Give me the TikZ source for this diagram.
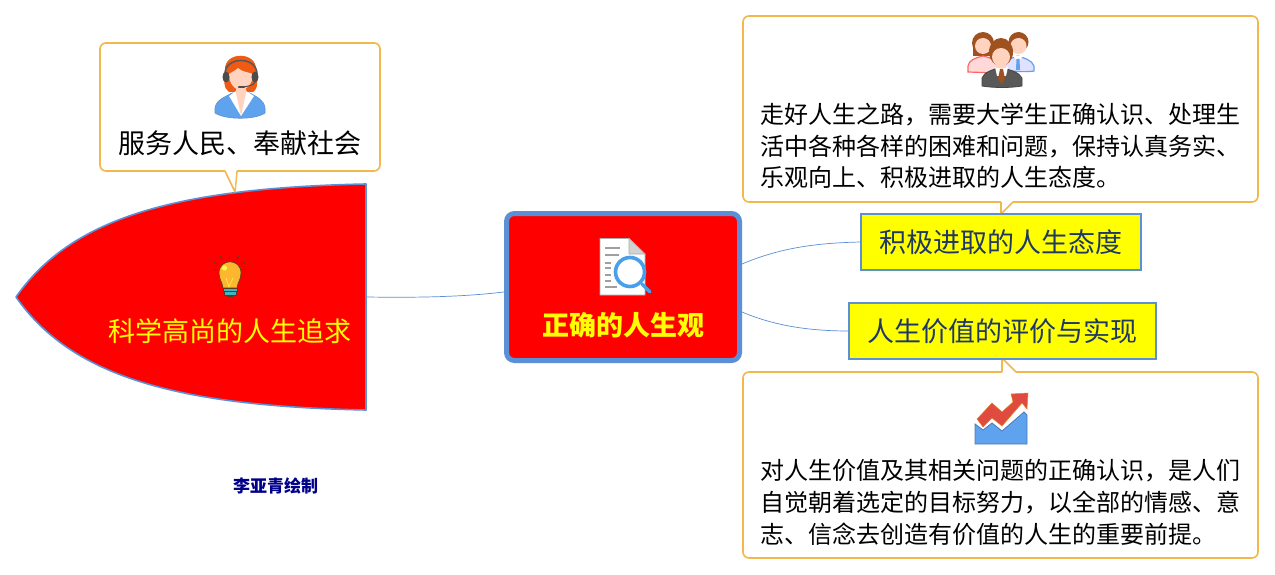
\documentclass[tikz,border=0pt]{standalone}
\usepackage{fontspec}
\setmainfont{Noto Sans CJK SC}
\usetikzlibrary{calc}
\definecolor{edgeblue}{HTML}{5B8FD6}
\definecolor{calloutgold}{HTML}{F2B84B}
\definecolor{labelnavy}{HTML}{1F3864}
\definecolor{goalred}{HTML}{FF0000}
\definecolor{pureyellow}{HTML}{FFFF00}
\definecolor{hairorange}{HTML}{F05A12}
\definecolor{skin}{HTML}{FFD3BE}
\definecolor{suitblue}{HTML}{5FA2EE}
\definecolor{lensblue}{HTML}{4A9FEA}
\definecolor{hairbrown}{HTML}{A0521E}
\definecolor{chartred}{HTML}{E04B3F}
\definecolor{bulbgold}{HTML}{FDB72E}
\definecolor{bulbline}{HTML}{5A3A20}
\definecolor{basecyan}{HTML}{3FB6C4}
\definecolor{creditblue}{HTML}{00008B}
\tikzset{
  callout/.style={draw=calloutgold,line width=1.6pt,fill=white,line join=round},
  topicbox/.style={draw=edgeblue,line width=1.6pt,fill=pureyellow,text=labelnavy,inner sep=0pt,outer sep=0pt,
    font=\fontsize{27}{32}\selectfont},
  calloutbody/.style={align=left,inner sep=0pt,font=\fontsize{24}{31.7}\selectfont,text=black},
  linkline/.style={draw=edgeblue,line width=0.7pt},
}
\begin{document}
\begin{tikzpicture}[x=1pt,y=-1pt]
\useasboundingbox (0,0) rectangle (1275,575);
\fill[white] (0,0) rectangle (1275,575);

% goal shape
\draw[edgeblue,line width=1.6pt,fill=goalred,line join=round]
  (16,297) .. controls (70,220) and (170,188) .. (366,184) -- (366,410)
  .. controls (170,406) and (70,374) .. cycle;
\coordinate (goalE) at (367,297);

% callouts
\draw[callout,rounded corners=6pt] (237,171) -- (380,171) -- (380,43) -- (100,43) -- (100,171) -- (225,171);
\draw[callout] (225,171) -- (235,192) -- (237,171);
\draw[callout,rounded corners=6pt] (1013,202) -- (1258,202) -- (1258,16) -- (743,16) -- (743,202) -- (1001,202);
\draw[callout] (1001,202) -- (1001,214) -- (1013,202);
\draw[callout,rounded corners=6pt] (1016,372) -- (1258,372) -- (1258,558) -- (743,558) -- (743,372) -- (1002,372);
\draw[callout] (1002,372) -- (1002,358) -- (1016,372);
\fill[white] (226.5,169) -- (235,188) -- (235.8,169) -- cycle;
\fill[white] (1002.5,200) -- (1002.5,209) -- (1010,200) -- cycle;
\fill[white] (1003.5,374) -- (1003.5,362) -- (1013,374) -- cycle;

% main nodes
\node[draw=edgeblue,line width=5pt,fill=goalred,rounded corners=8pt,minimum width=233pt,minimum height=147pt,
  inner sep=0pt,outer sep=2.5pt] (root) at (623,287) {};
\node[text=pureyellow,inner sep=0pt,font=\fontsize{27}{32}\selectfont\bfseries] (rootlabel) at (623,325) {正确的人生观};
\node[topicbox,minimum width=280pt,minimum height=56pt] (attitude) at (1001,242) {积极进取的人生态度};
\node[topicbox,minimum width=307pt,minimum height=56pt] (value) at (1002.5,331) {人生价值的评价与实现};

% connectors
\draw[linkline] (goalE) .. controls (430,298) and (470,296) .. ($(root.west)+(0,5)$);
\draw[linkline] ($(root.east)+(0,-23)$) .. controls (780,248) and (815,243) .. (attitude.west);
\draw[linkline] ($(root.east)+(0,25)$) .. controls (775,326) and (810,331) .. (value.west);

% texts
\node[text=pureyellow,inner sep=0pt,font=\fontsize{27}{32}\selectfont] (goallabel) at (229.5,331) {科学高尚的人生追求};
\node[text=black,inner sep=0pt,font=\fontsize{27}{32}\selectfont] (servelabel) at (240,143) {服务人民、奉献社会};
\node[calloutbody,anchor=west] (attitudetext) at (760,146) {走好人生之路，需要大学生正确认识、处理生\\活中各种各样的困难和问题，保持认真务实、\\乐观向上、积极进取的人生态度。};
\node[calloutbody,anchor=west] (valuetext) at (760,502.5) {对人生价值及其相关问题的正确认识，是人们\\自觉朝着选定的目标努力，以全部的情感、意\\志、信念去创造有价值的人生的重要前提。};
\node[text=creditblue,inner sep=0pt,font=\fontsize{17}{20}\selectfont\bfseries] (credit) at (275.5,486) {李亚青绘制};

% operator icon
\fill[hairorange] (225,70) .. controls (224,51) and (257,51) .. (256,70) .. controls (257,80) and (259,88) .. (253,92) -- (229,92) .. controls (223,88) and (224,80) .. (225,70) -- cycle;
\fill[suitblue,draw=edgeblue,line width=0.6pt] (215,108) .. controls (216,100) and (225,97) .. (232,93) -- (250,93) .. controls (257,97) and (264,100) .. (265,108) -- (265,113) .. controls (255,120) and (226,120) .. (215,113) -- cycle;
\fill[white] (229,96) -- (236,91) -- (246,91) -- (254,96) -- (241,116) -- cycle;
\fill[skin] (236,88) -- (246,88) -- (246,93) -- (241,116) -- (236,93) -- cycle;
\fill[skin] (229,74) .. controls (232,72) and (236,70) .. (238,68) .. controls (242,72) and (248,72) .. (253,74) .. controls (253,84) and (246,90) .. (241,90) .. controls (235,90) and (229,84) .. (229,74) -- cycle;
\draw[gray!70!black,line width=1.6pt] (225,74) .. controls (225,56) and (257,56) .. (257,74);
\fill[gray!60!black] (226,77) ellipse (3.5 and 5.5);
\fill[gray!60!black] (255,77) ellipse (3.5 and 5.5);
\draw[gray!60!black,line width=1pt] (255,82) .. controls (254,85) and (248,87) .. (240,87);
\draw[gray!60!black,line width=2.5pt,line cap=round] (239,87) -- (244,87);

% document and magnifier icon
\fill[white,draw=gray!65,line width=0.9pt] (600,238.5) -- (629,238.5) -- (645,254) -- (645,295) -- (600,295) -- cycle;
\fill[gray!35,draw=gray!65,line width=0.7pt] (629,238.5) -- (645,254) -- (629,254) -- cycle;
\foreach \ya/\xa in {248/620,255/619,263/611,268/611,275/611,281/611,287/617}{
  \draw[gray!75,line width=1.1pt] (605,\ya) -- (\xa,\ya);
}
\draw[lensblue,line width=3.4pt,line cap=round] (642,284) -- (650,292);
\fill[white,draw=lensblue,line width=3.6pt] (630,272) circle (14.5);

% people icon
\fill[hairbrown] (983,43) circle (11);
\fill[hairbrown] (973,43) rectangle (993,56);
\fill[hairbrown] (1018.5,42) circle (10);
\fill[skin] (983,46) circle (8);
\fill[skin] (1018.5,46) circle (8);
\fill[red!15,draw=red!60,line width=1.2pt] (968,72) -- (968,66) .. controls (969,60) and (975,58) .. (983,56) .. controls (991,58) and (997,60) .. (998,66) -- (998,73) -- cycle;
\fill[blue!12,draw=suitblue,line width=1.2pt] (1005,70) -- (1005,63) .. controls (1008,59) and (1012,58) .. (1018,56) .. controls (1024,58) and (1032,60) .. (1034,66) -- (1034,71) .. controls (1028,72) and (1016,72) .. (1005,70) -- cycle;
\fill[white] (1013,56) -- (1023,56) -- (1018,62) -- cycle;
\fill[suitblue] (1016.5,59) -- (1019.5,59) -- (1020,70) -- (1016,70) -- cycle;
\fill[gray!70!black,draw=gray!55!black,line width=0.8pt] (982,86) -- (982,78) .. controls (984,72) and (992,70) .. (1001,67) .. controls (1010,70) and (1019,72) .. (1022,78) -- (1022,86) .. controls (1010,88) and (994,88) .. (982,86) -- cycle;
\fill[white] (995,67) -- (1008,67) -- (1006,76) -- (997,76) -- cycle;
\fill[hairbrown] (1000,69) -- (1003,69) -- (1005,79) -- (1001.5,84) -- (998,79) -- cycle;
\fill[hairbrown] (1001,52) ellipse (12 and 14);
\fill[skin] (1001,57) circle (9);
\fill[skin] (996,60) rectangle (1006,68);

% growth chart icon
\fill[suitblue,draw=edgeblue!85!black,line width=0.8pt] (975,424) -- (983,430) -- (992,423) -- (1002,431) -- (1024,412) -- (1027,415) -- (1027,444) -- (975,444) -- cycle;
\fill[chartred,draw=orange!60!brown,line width=0.5pt] (977,419) -- (992,403) -- (1002,412) -- (1013,402) -- (1011,394) -- (1028,393) -- (1027,409) -- (1022,403) -- (1002,426) -- (992,418) -- (983,427) -- cycle;

% bulb icon
\foreach \xa/\ya/\xb/\yb in {229.5/255/229.5/259,220/256/222.5/260,239/256/236.5/260,214/262/218/264.5,245/262/241/264.5,213/269/216.5/269,246/269/242.5/269}{
  \draw[bulbline,line width=0.7pt] (\xa,\ya) -- (\xb,\yb);
}
\fill[bulbgold,draw=bulbline,line width=0.7pt] (223,288) .. controls (222,281) and (219,280) .. (219,273) .. controls (219,258) and (241,258) .. (241,273) .. controls (241,280) and (238,281) .. (237,288) -- cycle;
\fill[yellow!70!white] (224.5,268) circle (2.6);
\draw[yellow!60!white,line width=0.5pt] (226,278) -- (229,287) -- (233,278);
\fill[basecyan,draw=bulbline,line width=0.4pt] (223,288) rectangle (237,291.5);
\fill[basecyan,draw=bulbline,line width=0.4pt] (224,291.5) rectangle (236,295);
\fill[bulbline] (227,295) rectangle (233,297);
\end{tikzpicture}
\end{document}
